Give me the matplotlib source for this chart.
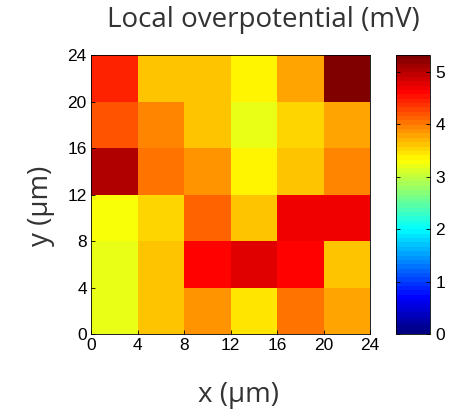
import numpy as np
import matplotlib
matplotlib.use("Agg")
import matplotlib.pyplot as plt
from matplotlib.colors import LinearSegmentedColormap

# Grid edges (µm) and local overpotential values (mV), rows listed from y=0 upward
x_edges = [0, 4, 8, 12, 16, 20, 24]
y_edges = [0, 4, 8, 12, 16, 20, 24]
overpotential = [
    [3.18, 3.61, 3.84, 3.45, 4.01, 3.76],   # y 0-4
    [3.18, 3.61, 4.61, 4.78, 4.61, 3.61],   # y 4-8
    [3.26, 3.53, 4.12, 3.61, 4.70, 4.70],   # y 8-12
    [5.03, 4.05, 3.84, 3.34, 3.61, 3.95],   # y 12-16
    [4.20, 3.97, 3.61, 3.18, 3.53, 3.79],   # y 16-20
    [4.45, 3.61, 3.61, 3.34, 3.79, 5.32],   # y 20-24
]
ticks = [0, 4, 8, 12, 16, 20, 24]
cbar_ticks = [0, 1, 2, 3, 4, 5]
vmin, vmax = 0.0, 5.32

# Classic MATLAB-style jet colour map, 64 levels
jet_segments = {
    "red":   [(0.0, 0.0, 0.0), (0.375, 0.0, 0.0), (0.625, 1.0, 1.0),
              (0.875, 1.0, 1.0), (1.0, 0.5, 0.5)],
    "green": [(0.0, 0.0, 0.0), (0.125, 0.0, 0.0), (0.375, 1.0, 1.0),
              (0.625, 1.0, 1.0), (0.875, 0.0, 0.0), (1.0, 0.0, 0.0)],
    "blue":  [(0.0, 0.5, 0.5), (0.125, 1.0, 1.0), (0.375, 1.0, 1.0),
              (0.625, 0.0, 0.0), (1.0, 0.0, 0.0)],
}
cmap = LinearSegmentedColormap("matlab_jet", jet_segments, N=64)

W, H = 463, 419
fig = plt.figure(figsize=(W / 100, H / 100), dpi=100)

ax = fig.add_axes([91 / W, 1 - 334 / H, 279 / W, 279 / H])
mesh = ax.pcolormesh(x_edges, y_edges, np.array(overpotential), cmap=cmap,
                     vmin=vmin, vmax=vmax, shading="flat")
ax.set_xlim(0, 24)
ax.set_ylim(0, 24)
ax.set_xticks(ticks)
ax.set_yticks(ticks)
tick_font = dict(family="Liberation Sans", size=12.5)
ax.set_xticklabels([str(t) for t in ticks], **tick_font)
ax.set_yticklabels([str(t) for t in ticks], **tick_font)
ax.tick_params(direction="in", length=3, width=0.6, pad=3)
for s in ax.spines.values():
    s.set_linewidth(0.6)

label_font = dict(family="Open Sans", size=20, color="#333333")
ax.set_xlabel("x (µm)", va="center", ha="center", **label_font)
ax.xaxis.set_label_coords(0.53, -0.219)
ax.set_ylabel("y (µm)", va="center", ha="center", **label_font)
ax.yaxis.set_label_coords(-0.179, 0.459)
fig.text(0.568, 1 - 20 / H, "Local overpotential (mV)", ha="center", va="center",
         family="Open Sans", size=20, color="#333333")

cax = fig.add_axes([396 / W, 1 - 334 / H, 34 / W, 279 / H])
cb = fig.colorbar(mesh, cax=cax, ticks=cbar_ticks)
cb.ax.set_yticklabels([str(t) for t in cbar_ticks], **tick_font)
cb.ax.tick_params(direction="in", length=3, width=0.6, left=True, right=True, pad=4)
cb.outline.set_linewidth(0.6)

fig.savefig("out.png", dpi=100)
